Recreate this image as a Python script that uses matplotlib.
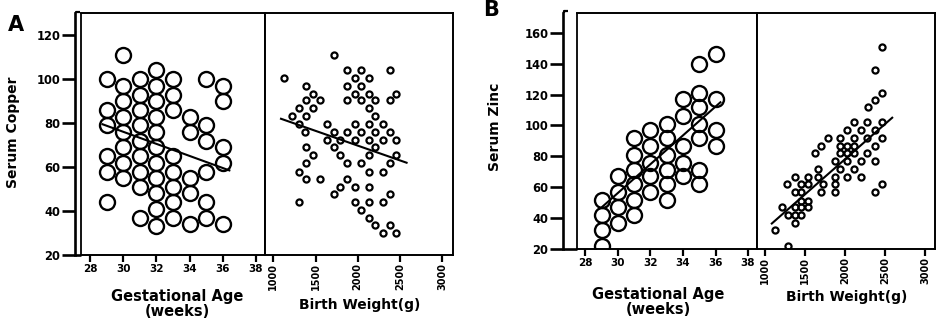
#!/usr/bin/env python3

import matplotlib
matplotlib.use('Agg')
import matplotlib.pyplot as plt
import numpy as np
from matplotlib.lines import Line2D

#################################################
### Data
#################################################

# Serum copper by gestational age (weeks)
copper_by_week = {
    29: [100, 86, 79, 65, 58, 44],
    30: [111, 97, 90, 83, 76, 69, 62, 55],
    31: [100, 93, 86, 79, 72, 65, 58, 51, 37],
    32: [104, 97, 90, 83, 76, 69, 62, 55, 48, 41, 33],
    33: [100, 93, 86, 65, 58, 51, 44, 37],
    34: [83, 76, 55, 48, 34],
    35: [100, 79, 72, 58, 44, 37],
    36: [97, 90, 69, 62, 34],
}
copper_ga_fit_x = [28.75, 36.4]
copper_ga_fit_y = [79.5, 58.5]

# Serum copper by birth weight (g), grouped by copper level
copper_by_weight = {
    110.9: [1715],
    104.0: [1875, 2045, 2380],
    100.5: [1130, 1965, 2130],
    97.0: [1390, 1875, 2045],
    93.5: [1475, 1965, 2130, 2460],
    90.5: [1390, 1555, 1875, 2045, 2210, 2380],
    87.0: [1305, 1475, 2130],
    83.3: [1220, 1390, 2210],
    79.5: [1300, 1635, 1965, 2130, 2300],
    76.0: [1375, 1715, 1875, 2045, 2210, 2380],
    72.3: [1635, 1795, 1965, 2130, 2300, 2460],
    69.0: [1390, 1715, 2210],
    65.5: [1475, 1795, 2130, 2460],
    61.7: [1390, 1875, 2045, 2380],
    57.9: [1305, 2130, 2300],
    54.5: [1390, 1555, 1875],
    51.0: [1795, 1965, 2130],
    47.7: [1715, 2380],
    44.0: [1300, 1965, 2130, 2300],
    40.5: [2045],
    37.0: [2130],
    33.6: [2210, 2380],
    30.1: [2300, 2460],
}
copper_bw_fit_x = [1090, 2580]
copper_bw_fit_y = [82, 62]

# Serum zinc by gestational age (weeks)
zinc_by_week = {
    29: [52, 42, 32, 22],
    30: [67, 57, 47, 37],
    31: [92, 81, 71, 62, 52, 42],
    32: [97, 87, 76, 67, 57],
    33: [101, 92, 81, 71, 62, 52],
    34: [117, 106, 87, 76, 67],
    35: [140, 121, 112, 101, 92, 71, 62],
    36: [146, 117, 97, 87],
}
zinc_ga_fit_x = [29.0, 36.3]
zinc_ga_fit_y = [47, 115]

# Serum zinc by birth weight (g), grouped by zinc level
zinc_by_weight = {
    151.0: [2465],
    136.0: [2375],
    121.0: [2465],
    116.5: [2375],
    112.0: [2290],
    102.0: [2110, 2280, 2460],
    97.0: [2020, 2195, 2380],
    92.0: [1785, 1935, 2110, 2280, 2460],
    87.0: [1700, 1935, 2020, 2110, 2380],
    82.0: [1620, 1935, 2020, 2110, 2280],
    77.0: [1870, 2020, 2195, 2380],
    71.5: [1660, 1935, 2110],
    66.5: [1370, 1535, 1660, 1870, 2020, 2195],
    62.0: [1280, 1455, 1540, 1725, 1870, 2465],
    57.0: [1375, 1455, 1705, 1870, 2375],
    51.0: [1455, 1540],
    47.0: [1210, 1375, 1455, 1540],
    42.0: [1290, 1375, 1455],
    37.0: [1375],
    32.0: [1125],
    22.0: [1290],
}
zinc_bw_fit_x = [1085, 2590]
zinc_bw_fit_y = [36.5, 105]

ga_ticks = [28, 30, 32, 34, 36, 38]
bw_ticks = [1000, 1500, 2000, 2500, 3000]
copper_ticks = [20, 40, 60, 80, 100, 120]
zinc_ticks = [20, 40, 60, 80, 100, 120, 140, 160]

#################################################
### Functions Definitions
#################################################

W, H = 941, 322


def px_rect(x0, y0, x1, y1):
    """Axes rectangle from pixel edges (y measured from the top)."""
    return [x0 / W, 1 - y1 / H, (x1 - x0) / W, (y1 - y0) / H]


def fig_line(fig, xs, ys, lw):
    fig.add_artist(Line2D([x / W for x in xs], [1 - y / H for y in ys],
                          transform=fig.transFigure, color='black', lw=lw,
                          solid_capstyle='butt'))


def flatten_by_x(groups):
    xs, ys = [], []
    for x, values in groups.items():
        xs += [x] * len(values)
        ys += values
    return xs, ys


def flatten_by_y(groups):
    xs, ys = [], []
    for y, values in groups.items():
        xs += values
        ys += [y] * len(values)
    return xs, ys


def panel(fig, box, split, ylim, yticks, gap, ga_data, ga_fit, bw_data, bw_fit):
    x0, y0, x1, y1 = box

    ax_ga = fig.add_axes(px_rect(x0, y0, split, y1))
    ax_bw = fig.add_axes(px_rect(split, y0, x1, y1))

    # Gestational age part
    ax_ga.plot(*ga_data, 'o', ms=10.8, mfc='none', mec='black', mew=1.7)
    ax_ga.plot(*ga_fit, color='black', lw=1.5)
    ax_ga.set_xlim(27.45, 38.55)
    ax_ga.set_ylim(*ylim)
    ax_ga.set_xticks(ga_ticks)
    ax_ga.set_yticks(yticks)
    ax_ga.spines['left'].set_position(('outward', gap * 0.72))
    ax_ga.spines['left'].set_linewidth(1.9)
    for s in ['top', 'right', 'bottom']:
        ax_ga.spines[s].set_linewidth(1.4)
    ax_ga.tick_params(axis='y', length=9.5, width=1.9, pad=1, labelsize=8.3)
    ax_ga.tick_params(axis='x', length=5, width=1.6, pad=1.5, labelsize=7.5)

    # Birth weight part
    ax_bw.plot(*bw_data, 'o', ms=4.4, mfc='none', mec='black', mew=1.6)
    ax_bw.plot(*bw_fit, color='black', lw=1.5)
    ax_bw.set_xlim(900, 3125)
    ax_bw.set_ylim(*ylim)
    ax_bw.set_xticks(bw_ticks)
    ax_bw.set_yticks([])
    for s in ['top', 'right', 'bottom', 'left']:
        ax_bw.spines[s].set_linewidth(1.4)
    ax_bw.tick_params(axis='x', length=5, width=1.6, pad=0.5, labelsize=7,
                      labelrotation=90)

    for ax in (ax_ga, ax_bw):
        for lab in ax.get_xticklabels() + ax.get_yticklabels():
            lab.set_fontweight('bold')

    # Inner frame edge, bottom axis bridge and top bracket of the y axis
    spine_x = x0 - gap
    fig_line(fig, [x0, x0], [y0, y1], 1.3)
    fig_line(fig, [spine_x, x0], [y1, y1], 1.9)
    fig_line(fig, [spine_x + 0.5, spine_x + 0.5, spine_x + 5], [y0, y0 - 1.5, y0 - 1.5], 1.6)

    return ax_ga, ax_bw


#################################################
### Figure
#################################################

plt.rcParams['font.family'] = 'DejaVu Sans'
fig = plt.figure(figsize=(9.41, 3.22), dpi=100)

panel(fig, (81, 13.3, 452.5, 255), 265, (20, 130), copper_ticks, 6,
      flatten_by_x(copper_by_week), (copper_ga_fit_x, copper_ga_fit_y),
      flatten_by_y(copper_by_weight), (copper_bw_fit_x, copper_bw_fit_y))

panel(fig, (576.5, 12.7, 935, 249), 757, (20, 173), zinc_ticks, 13.5,
      flatten_by_x(zinc_by_week), (zinc_ga_fit_x, zinc_ga_fit_y),
      flatten_by_y(zinc_by_weight), (zinc_bw_fit_x, zinc_bw_fit_y))

# Axis titles
label_kw = dict(ha='center', va='center', fontweight='bold')
fig.text(13 / W, 1 - 132 / H, 'Serum Copper', rotation=90, fontsize=10, **label_kw)
fig.text(177 / W, 1 - 303.5 / H, 'Gestational Age\n(weeks)', fontsize=10.5,
         linespacing=1.0, **label_kw)
fig.text(360 / W, 1 - 305 / H, 'Birth Weight(g)', fontsize=10, **label_kw)

fig.text(495 / W, 1 - 127 / H, 'Serum Zinc', rotation=90, fontsize=10, **label_kw)
fig.text(658 / W, 1 - 302 / H, 'Gestational Age\n(weeks)', fontsize=10.5,
         linespacing=1.0, **label_kw)
fig.text(847 / W, 1 - 297 / H, 'Birth Weight(g)', fontsize=10, **label_kw)

# Panel letters
fig.text(16 / W, 1 - 25 / H, 'A', fontsize=15, **label_kw)
fig.text(491 / W, 1 - 10 / H, 'B', fontsize=15, **label_kw)

fig.savefig('out.png', dpi=100)
